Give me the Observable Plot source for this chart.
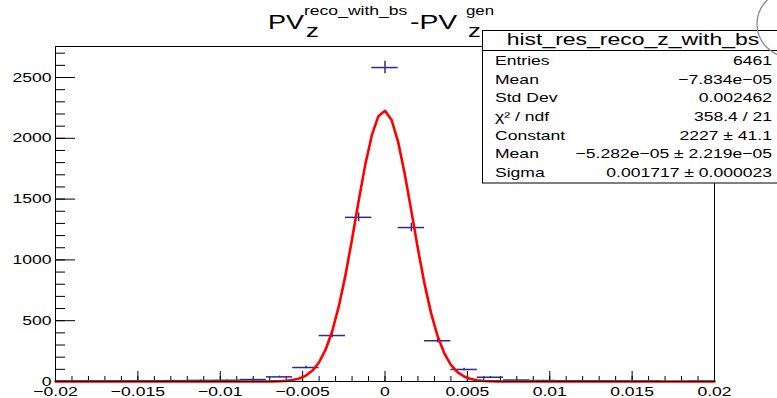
<!DOCTYPE html>
<html><head><meta charset="utf-8">
<script src="https://cdn.jsdelivr.net/npm/d3@7"></script>
<script src="https://cdn.jsdelivr.net/npm/@observablehq/plot@0.6"></script>
<style>
body{margin:0;background:#fff;}
#chart{position:relative;width:777px;height:398px;overflow:hidden;background:#fff}
</style>
</head><body><div id="chart"></div>
<script>
// ---- data ----
const binCenters = [-0.0192,-0.0176,-0.016,-0.0144,-0.0128,-0.0112,-0.0096,-0.008,-0.0064,-0.0048,-0.0032,-0.0016,0,0.0016,0.0032,0.0048,0.0064,0.008,0.0096,0.0112,0.0128,0.0144,0.016,0.0176,0.0192];
const binCounts  = [6,4,5,6,7,9,10,16,38,115,378,1350,2582,1266,335,99,35,12,8,6,5,4,3,0,2];
const binWidth = 0.0016;

// Gaussian fit parameters (from the stats box)
const fitConstant = 2227;
const fitMean = -5.282e-05;
const fitSigma = 0.001717;

const xTicks = [-0.02,-0.015,-0.01,-0.005,0,0.005,0.01,0.015,0.02];
const xTickLabels = ["\u22120.02","\u22120.015","\u22120.01","\u22120.005","0","0.005","0.01","0.015","0.02"];
const yTicks = [0,500,1000,1500,2000,2500];
const yTickLabels = ["0","500","1000","1500","2000","2500"];

const statsTitle = "hist_res_reco_z_with_bs";
const statLabels = ["Entries","Mean","Std Dev","\u03c7\u00b2 / ndf","Constant","Mean","Sigma"];
const statValues = ["6461","\u22127.834e\u221205","0.002462","358.4 / 21","2227 \u00b1 41.1","\u22125.282e\u221205 \u00b1 2.219e\u221205","0.001717 \u00b1 0.000023"];

// ---- derived ----
const bins = binCenters.map((x,i)=>({x, c: binCounts[i]})).filter(d=>d.c>0);
const fitX = d3.range(0, 101).map(i => -0.02 + i*0.0004);
const fit = fitX.map(x => ({x, y: fitConstant*Math.exp(-0.5*((x-fitMean)/fitSigma)**2)}));
const xMinor = d3.range(-20, 21).map(i => i/1000);
const yMinor = d3.range(0, 28).map(i => i*100);

const W = 777, H = 398, ML = 55, MR = 63, MT = 46, MB = 17;
const PW = W-ML-MR, PH = H-MT-MB;
const SX = 1.35;
const FONT = "'Liberation Sans', Arial, Helvetica, sans-serif";
const blue = "#2b2b8f";

const svg = Plot.plot({
  width: W, height: H,
  marginLeft: ML, marginRight: MR, marginTop: MT, marginBottom: MB,
  style: {fontFamily: FONT, fontSize: "13px", color: "#000", background: "#fff", overflow: "visible"},
  x: {domain: [-0.02, 0.02], axis: null},
  y: {domain: [0, 2755], axis: null},
  marks: [
    Plot.tickY(yTicks, {insetRight: PW-20, stroke: "#000"}),
    Plot.tickY(yMinor, {insetRight: PW-10, stroke: "#000"}),
    Plot.tickX(xTicks, {insetTop: PH-10, stroke: "#000"}),
    Plot.tickX(xMinor, {insetTop: PH-5, stroke: "#000"}),
    Plot.axisY(yTicks, {tickSize: 0, tickPadding: 4, fontSize: 13, label: null, tickFormat: (d,i)=>yTickLabels[i]}),
    Plot.axisX(xTicks, {tickSize: 0, tickPadding: 5, fontSize: 13, label: null, tickFormat: (d,i)=>xTickLabels[i]}),
    Plot.ruleY(bins, {y: "c", x1: d=>d.x-binWidth/2, x2: d=>d.x+binWidth/2, stroke: blue, strokeWidth: 1.5}),
    Plot.ruleX(bins, {x: "x", y1: d=>d.c-Math.sqrt(d.c), y2: d=>d.c+Math.sqrt(d.c), stroke: blue, strokeWidth: 1.5}),
    Plot.line(fit, {x: "x", y: "y", stroke: "#f00", strokeWidth: 2.6}),
    Plot.frame({stroke: "#000", strokeWidth: 1})
  ]
});
document.getElementById("chart").appendChild(svg);

// horizontal stretch of all text (the reference's lettering is wide)
d3.select(svg).selectAll("text").each(function(){
  const t = this.getAttribute("transform");
  if (t) { this.setAttribute("transform", t + ` scale(${SX},1)`); }
  else {
    const x = +(this.getAttribute("x")||0), y = +(this.getAttribute("y")||0);
    this.removeAttribute("x"); this.removeAttribute("y");
    this.setAttribute("transform", `translate(${x},${y}) scale(${SX},1)`);
  }
});

const S = d3.select(svg);
function txt(g, s, x, y, size, anchor="start") {
  return g.append("text").attr("transform", `translate(${x},${y}) scale(${SX},1)`)
    .attr("font-size", size).attr("font-family", FONT).attr("text-anchor", anchor)
    .attr("fill", "#000").text(s);
}
// title
const tg = S.append("g");
txt(tg, "PV", 268, 29, 20);
txt(tg, "reco_with_bs", 304, 15, 13);
txt(tg, "z", 306, 37, 19);
txt(tg, "-PV", 410, 29, 21);
txt(tg, "gen", 466, 15, 12.5);
txt(tg, "z", 468, 37, 19);

// stats box
const sg = S.append("g");
sg.append("rect").attr("x", 482.5).attr("y", 30.5).attr("width", 310).attr("height", 152.5)
  .attr("fill", "#fff").attr("stroke", "#000").attr("stroke-width", 1);
sg.append("line").attr("x1", 482.5).attr("x2", 792).attr("y1", 50.5).attr("y2", 50.5).attr("stroke", "#000");
txt(sg, statsTitle, 633, 45, 17, "middle");
statLabels.forEach((s,i) => txt(sg, s, 495, 65 + i*18.67, 13));
statValues.forEach((s,i) => txt(sg, s, 772, 65 + i*18.67, 13, "end"));

// grey arc at the top-right corner of the screenshot
S.append("circle").attr("cx", 790).attr("cy", 24).attr("r", 33)
  .attr("fill", "none").attr("stroke", "#8a8a8a").attr("stroke-width", 1.3);
</script>
</body></html>
